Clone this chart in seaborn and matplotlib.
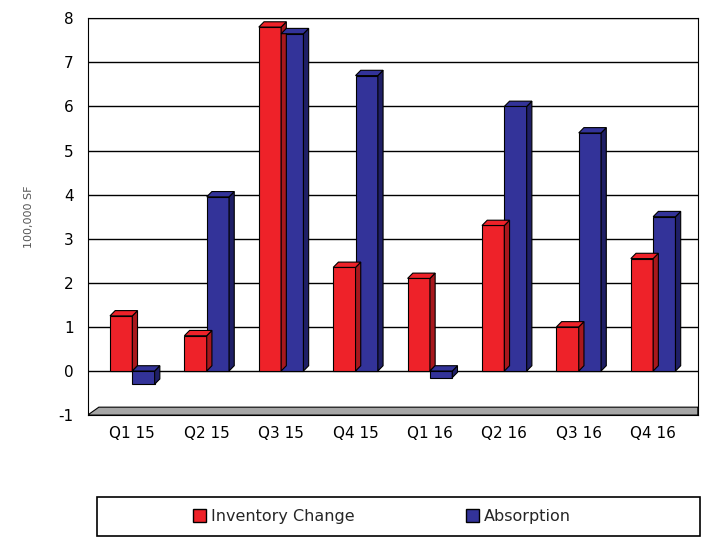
import numpy as np
import pandas as pd
import matplotlib.pyplot as plt
import seaborn as sns
from matplotlib.patches import Polygon, Patch, Rectangle

quarters = ['Q1 15', 'Q2 15', 'Q3 15', 'Q4 15', 'Q1 16', 'Q2 16', 'Q3 16', 'Q4 16']
inventory = [1.25, 0.8, 7.8, 2.35, 2.1, 3.3, 1.0, 2.55]
absorption = [-0.3, 3.95, 7.65, 6.7, -0.15, 6.0, 5.4, 3.5]
series = ['Inventory Change', 'Absorption']

df = pd.DataFrame({'quarter': quarters * 2,
                   'value': inventory + absorption,
                   'series': [series[0]] * 8 + [series[1]] * 8})

sns.set_style('white')
plt.rcParams['font.family'] = ['DejaVu Sans']
plt.rcParams['axes.unicode_minus'] = False

fig = plt.figure(figsize=(7.07, 5.37), dpi=100)
ax = fig.add_axes([0.124, 0.227, 0.863, 0.739])
sns.barplot(data=df, x='quarter', y='value', hue='series', saturation=1,
            palette=['#ee2229', '#333399'], width=0.6, ax=ax,
            edgecolor='black', linewidth=0.8, legend=False, zorder=3)

ax.set_xlim(-0.6, 7.6)
ax.set_ylim(-1, 8)
ax.set_yticks(range(-1, 9))
for y in range(0, 9):
    ax.axhline(y, color='black', lw=1, zorder=1)

dx, dy = 0.07, 0.12
side = {'#ee2229': '#a8181d', '#333399': '#1f1f66'}
for p in ax.patches:
    x0, w = p.get_x(), p.get_width()
    y0, h = p.get_y(), p.get_height()
    top = y0 + h if h >= 0 else y0
    fc = '#ee2229' if p.get_facecolor()[0] > 0.5 else '#333399'
    ax.add_patch(Polygon([[x0 + w, y0], [x0 + w + dx, y0 + dy], [x0 + w + dx, y0 + h + dy],
                          [x0 + w, y0 + h]], closed=True, fc=side[fc], ec='black', lw=0.8, zorder=3))
    ax.add_patch(Polygon([[x0, top], [x0 + dx, top + dy], [x0 + w + dx, top + dy],
                          [x0 + w, top]], closed=True, fc=fc, ec='black', lw=0.8, zorder=4))

# floor
ax.add_patch(Polygon([[-0.6, -1], [-0.45, -0.82], [7.6, -0.82], [7.6, -1]],
                     closed=True, fc='#a6a6a6', ec='black', lw=0.8, zorder=2))

for s in ax.spines.values():
    s.set_color('black')
ax.set_xlabel('')
ax.set_ylabel('100,000 SF', fontsize=8, color='#555555', labelpad=18)
ax.tick_params(axis='both', labelsize=11, length=0, colors='black')
ax.tick_params(axis='y', pad=10)
ax.tick_params(axis='x', pad=8)

# legend box spanning the bottom
fig.patches.append(Rectangle((0.137, 0.002), 0.853, 0.072, transform=fig.transFigure,
                             fill=False, ec='black', lw=1.2))
handles = [Patch(fc='#ee2229', ec='black'), Patch(fc='#333399', ec='black')]
fig.legend(handles, series, loc='center', bbox_to_anchor=(0.54, 0.038), ncol=2,
           fontsize=11.5, frameon=False, handlelength=0.8, handleheight=0.8,
           handletextpad=0.3, columnspacing=7)

fig.savefig('out.png', dpi=100)
